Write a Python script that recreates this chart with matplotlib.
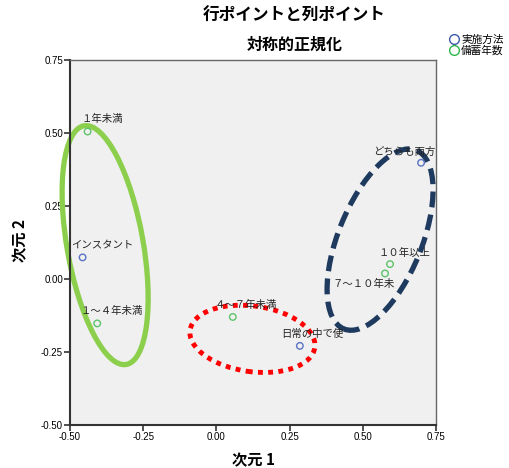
import matplotlib.pyplot as plt
from matplotlib.patches import Ellipse

plt.rcParams['font.family'] = ['Noto Sans CJK JP', 'DejaVu Sans']

# row points (実施方法)
row_labels = ['インスタント', '日常の中で使', 'どちらも両方']
row_x = [-0.457, 0.285, 0.699]
row_y = [0.074, -0.229, 0.398]

# column points (備蓄年数)
col_labels = ['１年未満', '１～４年未満', '４～７年未満', '７～１０年未', '１０年以上']
col_x = [-0.440, -0.407, 0.056, 0.576, 0.593]
col_y = [0.505, -0.152, -0.130, 0.019, 0.051]

# label offsets in pixels (left edge, vertical centre)
row_off = [(-11, 12), (-19, 12), (-48, 11)]
col_off = [(-6, 13), (-17, 12), (-18, 12), (-53, -11), (-12, 11)]

blue = '#5a72c4'
green = '#5cc46a'

fig = plt.figure(figsize=(5.09, 4.68), dpi=100)
ax = fig.add_axes([70 / 509, 1 - 425 / 468, 366 / 509, 365 / 468])
ax.set_facecolor('#f0f0f0')

ax.scatter(row_x, row_y, s=22, facecolors='none', edgecolors=blue, linewidths=1.0, zorder=3)
ax.scatter(col_x, col_y, s=22, facecolors='none', edgecolors=green, linewidths=1.0, zorder=3)

for lab, x, y, off in zip(row_labels, row_x, row_y, row_off):
    ax.annotate(lab, (x, y), xytext=off, textcoords='offset pixels',
                ha='left', va='center', fontsize=7.5, color='#222222')
for lab, x, y, off in zip(col_labels, col_x, col_y, col_off):
    ax.annotate(lab, (x, y), xytext=off, textcoords='offset pixels',
                ha='left', va='center', fontsize=7.5, color='#222222')

# group ellipses (drawn unclipped, they spill over the frame in the original)
ax.add_patch(Ellipse((-0.380, 0.116), 0.26, 0.83, angle=10, fill=False,
                     edgecolor='#8ccf4c', linewidth=3.8, zorder=2, clip_on=False))
ax.add_patch(Ellipse((0.123, -0.205), 0.43, 0.225, angle=-8, fill=False,
                     edgecolor='#ff0000', linewidth=3.5, linestyle=(0, (1, 1.1)),
                     zorder=2, clip_on=False))
ax.add_patch(Ellipse((0.559, 0.135), 0.285, 0.66, angle=-22, fill=False,
                     edgecolor='#1f3a5f', linewidth=3.8, linestyle=(0, (3, 1.4)),
                     zorder=2, clip_on=False))

ax.set_xlim(-0.5, 0.75)
ax.set_ylim(-0.5, 0.75)
ax.set_xticks([-0.5, -0.25, 0, 0.25, 0.5, 0.75])
ax.set_yticks([-0.5, -0.25, 0, 0.25, 0.5, 0.75])
ax.xaxis.set_major_formatter(plt.FormatStrFormatter('%.2f'))
ax.yaxis.set_major_formatter(plt.FormatStrFormatter('%.2f'))
ax.tick_params(labelsize=7, length=4, width=1.2, color='#333333', pad=1)
for t in ax.get_xticklabels() + ax.get_yticklabels():
    t.set_family('Liberation Sans')

for side in ['left', 'bottom']:
    ax.spines[side].set_color('#333333')
    ax.spines[side].set_linewidth(1.5)
for side in ['top', 'right']:
    ax.spines[side].set_color('#666666')
    ax.spines[side].set_linewidth(1.0)

fig.text(294 / 509, 1 - 16 / 468, '行ポイントと列ポイント', ha='center', va='center',
         fontsize=12, fontweight='bold')
fig.text(295 / 509, 1 - 45 / 468, '対称的正規化', ha='center', va='center',
         fontsize=11.5, fontweight='bold')
fig.text(253 / 509, 1 - 460 / 468, '次元 1', ha='center', va='center',
         fontsize=11, fontweight='bold')
fig.text(20 / 509, 1 - 240 / 468, '次元 2', ha='center', va='center',
         fontsize=11, fontweight='bold', rotation=90)

# legend
leg_h = [plt.Line2D([], [], marker='o', linestyle='none', markerfacecolor='none',
                    markeredgecolor='#3e58ac', markersize=7),
         plt.Line2D([], [], marker='o', linestyle='none', markerfacecolor='none',
                    markeredgecolor='#2eb848', markersize=7)]
fig.legend(leg_h, ['実施方法', '備蓄年数'], loc='upper left',
           bbox_to_anchor=(443 / 509, 1 - 29 / 468), frameon=False, fontsize=7.7,
           handletextpad=0.2, handlelength=1.0, borderpad=0, labelspacing=0.05)

fig.savefig('out.png', dpi=100)
